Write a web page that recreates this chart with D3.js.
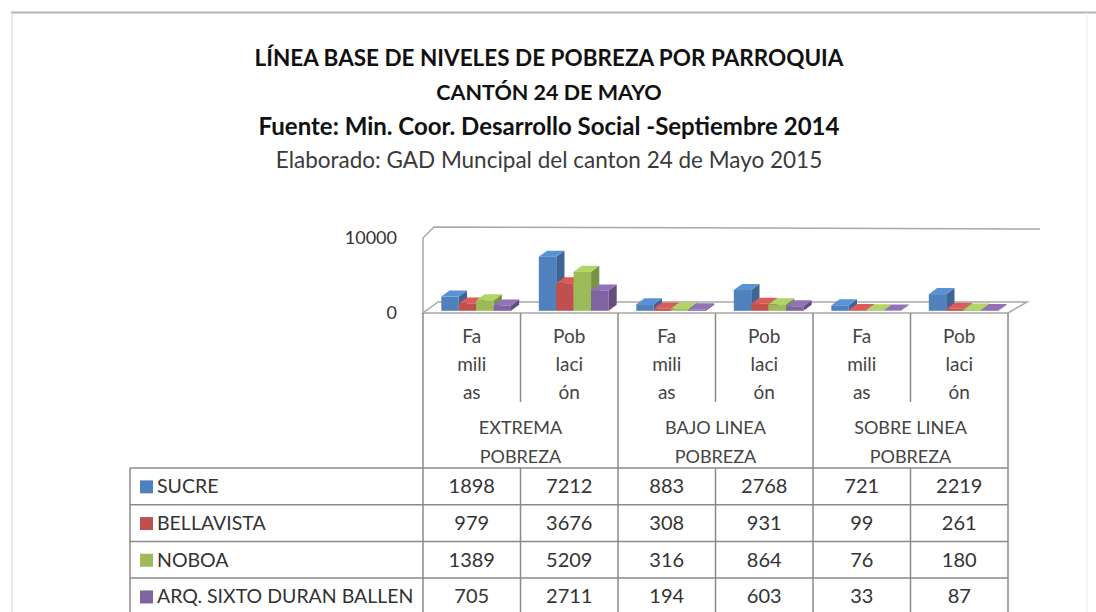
<!DOCTYPE html>
<html>
<head>
<meta charset="utf-8">
<script src="https://cdn.jsdelivr.net/npm/d3@7"></script>
<style>
  body { margin: 0; background: #fff; }
  text { font-family: Lato, "Open Sans", sans-serif; }
</style>
</head>
<body>
<div id="chart"></div>
<script>
const grupos = ["EXTREMA POBREZA", "BAJO LINEA POBREZA", "SOBRE LINEA POBREZA"];
const subcats = ["Familias", "Población"];
const subLineas = { "Familias": ["Fa", "mili", "as"], "Población": ["Pob", "laci", "ón"] };
const parroquias = ["SUCRE", "BELLAVISTA", "NOBOA", "ARQ. SIXTO DURAN BALLEN"];
const sucre = [1898, 7212, 883, 2768, 721, 2219];
const bellavista = [979, 3676, 308, 931, 99, 261];
const noboa = [1389, 5209, 316, 864, 76, 180];
const sixto = [705, 2711, 194, 603, 33, 87];
const yTicks = [0, 10000];
const colores = ["#4F81BD", "#C0504D", "#9BBB59", "#8064A2"];

const valores = [sucre, bellavista, noboa, sixto];
const columnas = [];
grupos.forEach((g) => subcats.forEach((s) => columnas.push(g + "|" + s)));

const W = 1096, H = 612;
const svg = d3.select("#chart").append("svg").attr("width", W).attr("height", H);

// marco exterior
svg.append("line").attr("x1", 11).attr("x2", W).attr("y1", 12.5).attr("y2", 12.5)
  .attr("stroke", "#b5b5b5").attr("stroke-width", 2);
svg.append("line").attr("x1", 12).attr("x2", 12).attr("y1", 13).attr("y2", H)
  .attr("stroke", "#e2e2e2").attr("stroke-width", 1.5);
svg.append("line").attr("x1", 1087).attr("x2", 1087).attr("y1", 13).attr("y2", H)
  .attr("stroke", "#f0f0f0").attr("stroke-width", 1.5);

// titulos
const titulos = [
  { t: "LÍNEA BASE DE NIVELES DE POBREZA POR PARROQUIA", y: 66, w: "bold", s: 22.5 },
  { t: "CANTÓN 24 DE MAYO", y: 100, w: "bold", s: 21.5 },
  { t: "Fuente: Min. Coor. Desarrollo Social -Septiembre 2014", y: 135, w: "bold", s: 24 },
  { t: "Elaborado: GAD Muncipal del canton 24 de Mayo 2015", y: 168, w: "normal", s: 22.5 },
];
svg.selectAll("text.titulo").data(titulos).enter().append("text")
  .attr("class", "titulo")
  .attr("x", 549).attr("y", (d) => d.y)
  .attr("text-anchor", "middle")
  .style("font-size", (d) => d.s + "px")
  .style("font-weight", (d) => d.w)
  .style("fill", (d) => d.w === "bold" ? "#111" : "#3a3a3a")
  .text((d) => d.t);

// escalas
const x0 = 423, x1 = 1008, floorY = 313;
const D = { x: 15, y: -11 };
const f0 = 0.2, f1 = 0.75;

const xCol = d3.scaleBand().domain(columnas).range([x0, x1]);
const xSer = d3.scaleBand().domain(parroquias).range([0, xCol.bandwidth()])
  .paddingInner(0).paddingOuter(0.8).align(0.55);
const y = d3.scaleLinear().domain([0, 10000]).range([floorY, 238]);

// paredes y piso
const g3 = svg.append("g");
g3.append("path")
  .attr("d", `M${x0},${floorY} L${x1},${floorY} L${x1 + D.x + 4},${floorY + D.y} L${x0 + D.x},${floorY + D.y} Z`)
  .attr("fill", "#fff").attr("stroke", "#a8a8a8").attr("stroke-width", 1.5);
g3.append("path")
  .attr("d", `M${x0},${floorY} L${x0},${y(10000)} L${x0 + D.x - 4},${y(10000) + D.y} L${x1 + D.x + 17},${y(10000) + D.y + 2}`)
  .attr("fill", "none").attr("stroke", "#a8a8a8").attr("stroke-width", 1.5);

// eje y
svg.append("g")
  .attr("transform", `translate(${x0},0)`)
  .call(d3.axisLeft(y).tickValues(yTicks).tickSize(0).tickPadding(26).tickFormat(d3.format("d")))
  .call((g) => g.select(".domain").remove())
  .selectAll("text")
  .style("font-size", "18px")
  .style("font-family", "Lato, sans-serif")
  .style("fill", "#333");

// barras 3D
const barras = svg.append("g");
columnas.forEach((c, ci) => {
  parroquias.forEach((p, si) => {
    const v = valores[si][ci];
    const w = xSer.bandwidth();
    const bx = xCol(c) + xSer(p) + D.x * f0;
    const by = y(0) + D.y * f0;
    const ty = y(v) + D.y * f0;
    const dx = D.x * (f1 - f0), dy = D.y * (f1 - f0);
    const col = d3.color(colores[si]);
    const gb = barras.append("g");
    gb.append("path")
      .attr("d", `M${bx + w},${by} L${bx + w + dx},${by + dy} L${bx + w + dx},${ty + dy} L${bx + w},${ty} Z`)
      .attr("fill", col.darker(0.7));
    gb.append("path")
      .attr("d", `M${bx},${ty} L${bx + dx},${ty + dy} L${bx + w + dx},${ty + dy} L${bx + w},${ty} Z`)
      .attr("fill", col.brighter(0.35));
    gb.append("rect")
      .attr("x", bx).attr("y", ty).attr("width", w).attr("height", by - ty)
      .attr("fill", colores[si]);
  });
});

// tabla de datos
const legX = 130, rowTop = 468, rowH = 36.7, subBottom = 402;
const lineCol = "#8a8a8a";
const tabla = svg.append("g");
const rowsY = d3.range(parroquias.length + 1).map((i) => rowTop + i * rowH);

// lineas horizontales
tabla.selectAll("line.h").data(rowsY).enter().append("line")
  .attr("x1", legX).attr("x2", x1).attr("y1", (d) => d).attr("y2", (d) => d)
  .attr("stroke", lineCol).attr("stroke-width", 1.5);
// borde izquierdo
tabla.append("line").attr("x1", legX).attr("x2", legX).attr("y1", rowTop).attr("y2", H)
  .attr("stroke", lineCol).attr("stroke-width", 1.5);
// separadores de grupo
const grupoBordes = [x0].concat(grupos.map((g, i) => xCol(columnas[i * 2 + 1]) + xCol.bandwidth()));
tabla.selectAll("line.g").data(grupoBordes).enter().append("line")
  .attr("x1", (d) => d).attr("x2", (d) => d).attr("y1", floorY).attr("y2", H)
  .attr("stroke", lineCol).attr("stroke-width", 1.5);
// separadores internos
grupos.forEach((g, i) => {
  const xx = xCol(columnas[i * 2 + 1]);
  tabla.append("line").attr("x1", xx).attr("x2", xx).attr("y1", floorY).attr("y2", subBottom)
    .attr("stroke", lineCol).attr("stroke-width", 1.5);
  tabla.append("line").attr("x1", xx).attr("x2", xx).attr("y1", rowTop).attr("y2", H)
    .attr("stroke", lineCol).attr("stroke-width", 1.5);
});

// etiquetas de subcategoria
columnas.forEach((c) => {
  const s = c.split("|")[1];
  subLineas[s].forEach((ln, li) => {
    tabla.append("text")
      .attr("x", xCol(c) + xCol.bandwidth() / 2)
      .attr("y", 343 + li * 28)
      .attr("text-anchor", "middle")
      .style("font-size", "19px").style("fill", "#444")
      .text(ln);
  });
});
// etiquetas de grupo
grupos.forEach((g, i) => {
  const cx = xCol(columnas[i * 2]) + xCol.bandwidth();
  const partes = g === "EXTREMA POBREZA" ? ["EXTREMA", "POBREZA"]
    : [g.replace(" POBREZA", ""), "POBREZA"];
  partes.forEach((ln, li) => {
    tabla.append("text")
      .attr("x", cx).attr("y", 434 + li * 29)
      .attr("text-anchor", "middle")
      .style("font-size", "18px").style("fill", "#444")
      .text(ln);
  });
});

// filas
parroquias.forEach((p, si) => {
  const cy = rowsY[si] + rowH / 2;
  tabla.append("rect").attr("x", 140).attr("y", cy - 6).attr("width", 13).attr("height", 13)
    .attr("fill", colores[si]);
  tabla.append("text").attr("x", 157).attr("y", cy + 7)
    .style("font-size", "19.5px").style("fill", "#333").text(p);
  columnas.forEach((c, ci) => {
    tabla.append("text")
      .attr("x", xCol(c) + xCol.bandwidth() / 2).attr("y", cy + 7)
      .attr("text-anchor", "middle")
      .style("font-size", "20px").style("fill", "#333")
      .text(valores[si][ci]);
  });
});
</script>
</body>
</html>
